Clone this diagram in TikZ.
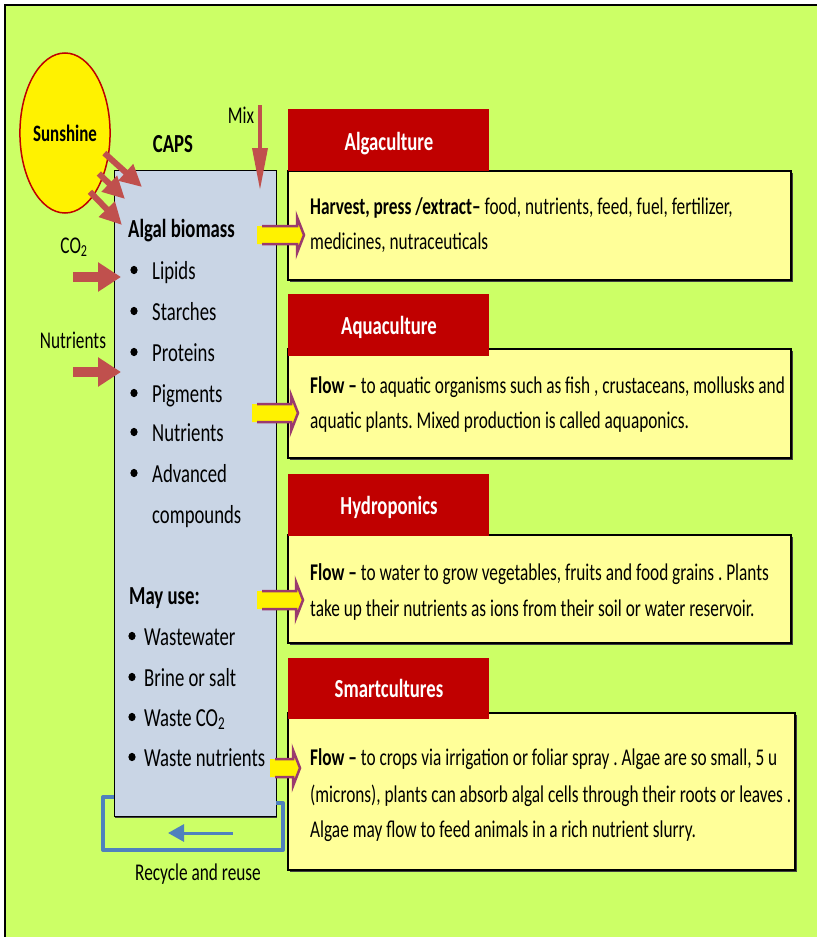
\documentclass[tikz,border=0pt]{standalone}
\usepackage{fontspec}
\setmainfont[FakeStretch=0.72]{Carlito}
\usetikzlibrary{arrows.meta,shapes.geometric,shadows}
\definecolor{bg}{HTML}{CCFF66}
\definecolor{capsfill}{HTML}{C9D5E5}
\definecolor{yfill}{HTML}{FFFF99}
\definecolor{hred}{HTML}{C00000}
\definecolor{ared}{HTML}{C0504D}
\definecolor{rblue}{HTML}{4F81BD}
\definecolor{purp}{HTML}{9B3A6E}
\frenchspacing
\newcommand\yellowarrow[3]{%
  \fill[yellow] (#1,#2-9) -- (#3-7,#2-9) -- (#3-7,#2-18) -- (#3,#2) -- (#3-7,#2+18) -- (#3-7,#2+9) -- (#1,#2+9) -- cycle;
  \draw[purp, line width=2.5, line join=miter] (#1+5,#2-9) -- (#3-7,#2-9) -- (#3-7,#2-18) -- (#3,#2) -- (#3-7,#2+18) -- (#3-7,#2+9) -- (#1+5,#2+9);
}
\begin{document}
\begin{tikzpicture}[x=1pt,y=-1pt,
  lst/.style={font=\fontsize{26}{30}\selectfont, anchor=base west, inner sep=0},
  lstb/.style={font=\fontsize{26}{30}\selectfont\bfseries, anchor=base west, inner sep=0},
  body/.style={font=\fontsize{24}{28}\selectfont, anchor=base west, inner sep=0},
  lbl/.style={font=\fontsize{24}{28}\selectfont, anchor=base, inner sep=0},
  hdrtxt/.style={font=\fontsize{26}{30}\selectfont\bfseries, text=white, anchor=base, inner sep=0},
  hdrbox/.style={fill=hred, anchor=north west, minimum width=201, minimum height=62, inner sep=0, outer sep=0},
  ybox/.style={fill=yfill, draw=black, line width=1.2, anchor=north west, inner sep=0, outer sep=0,
     drop shadow={shadow xshift=1.5pt, shadow yshift=-1.5pt, fill=black!75, opacity=1}},
  capsbox/.style={fill=capsfill, draw=black, line width=1, anchor=north west, inner sep=0, outer sep=0,
     drop shadow={shadow xshift=1pt, shadow yshift=-1.5pt, fill=black!75, opacity=1}},
  sunarrow/.style={ared, line width=6, -{Triangle[length=22pt,width=21pt]}},
  inarrow/.style={ared, line width=10, -{Triangle[length=23pt,width=28pt]}},
  mixarrow/.style={ared, line width=3.5, -{Triangle[length=42pt,width=15pt]}},
  recyc/.style={rblue, line width=4, line join=round},
  bul/.style={fill=black}
]
\useasboundingbox (0,0) rectangle (817,937);
\fill[white] (0,0) rectangle (817,937);
\fill[bg] (5,5) rectangle (817,937);
\draw[black, line width=2] (5,937) -- (5,5) -- (817,5);

% CAPS box
\node[capsbox, minimum width=162, minimum height=646] (caps) at (114,170) {};

% Sunshine
\node[ellipse, draw=hred, line width=1.5, fill=yellow, minimum width=90, minimum height=160, inner sep=0, outer sep=0,
      font=\fontsize{23.5}{28}\selectfont\bfseries] (sun) at (65,133) {Sunshine};
\coordinate (a1) at (142,187);
\coordinate (a2) at (125,199);
\coordinate (a3) at (122,225);
\draw[sunarrow] ([shift={(-4,-2)}]sun.-27) -- (a1);
\draw[sunarrow] ([shift={(-4,-3)}]sun.-49) -- (a2);
\draw[sunarrow] ([shift={(-3,-4)}]sun.-66) -- (a3);

\node[lbl, font=\fontsize{26}{30}\selectfont\bfseries] (capslbl) at (173,152) {CAPS};

% Mix
\node[lbl] (mix) at (241,123) {Mix};
\coordinate (m0) at (260,105);
\coordinate (m1) at (260,190);
\draw[mixarrow] (m0) -- (m1);

% CO2 and nutrients
\node[lbl] (co2) at (74,253) {CO\textsubscript{2}};
\coordinate (c0) at (73,277);
\coordinate (c1) at (121,277);
\draw[inarrow] (c0) -- (c1);
\node[lbl] (nutr) at (73,348) {Nutrients};
\coordinate (n0) at (73,372);
\coordinate (n1) at (121,372);
\draw[inarrow] (n0) -- (n1);

% list 1
\node[lstb] (alg) at (128,237) {Algal biomass};
\foreach \y/\t [count=\i] in {279/Lipids,320/Starches,361/Proteins,402/Pigments,441/Nutrients,482/Advanced} {
  \fill[bul] (134,\y-9) ellipse (3.6 and 4.2);
  \node[lst] (l\i) at (152,\y) {\t};
}
\node[lst] (l7) at (152,523) {compounds};

% list 2
\node[lstb] (may) at (129,604) {May use:};
\foreach \y/\t [count=\i] in {645/Wastewater,686/Brine or salt,726/Waste CO\textsubscript{2},766/Waste nutrients} {
  \fill[bul] (132,\y-9) ellipse (3.6 and 4.2);
  \node[lst] (w\i) at (144,\y) {\t};
}

% recycle
\coordinate (rl) at (114,797);
\coordinate (rr) at (276,803);
\draw[recyc] (rl) -- (103,797) -- (103,850) -- (283,850) -- (283,803) -- (rr);
\coordinate (ra0) at (233,833);
\coordinate (ra1) at (168,833);
\draw[rblue, line width=3, -{Triangle[length=16pt,width=17pt]}] (ra0) -- (ra1);
\node[lbl] (rec) at (198,880) {Recycle and reuse};

% yellow boxes
\node[ybox, minimum width=503, minimum height=109] (y1) at (288,171) {};
\node[ybox, minimum width=503, minimum height=109] (y2) at (288,349) {};
\node[ybox, minimum width=503, minimum height=108] (y3) at (288,535) {};
\node[ybox, minimum width=507, minimum height=157] (y4) at (288,713) {};

% headers
\node[hdrbox] (h1) at (288,109) {};
\node[hdrbox] (h2) at (288,294) {};
\node[hdrbox] (h3) at (288,474) {};
\node[hdrbox, minimum height=61] (h4) at (288,658) {};
\node[hdrtxt] (ht1) at (389,150) {Algaculture};
\node[hdrtxt] (ht2) at (389,334) {Aquaculture};
\node[hdrtxt] (ht3) at (389,514) {Hydroponics};
\node[hdrtxt] (ht4) at (389,697) {Smartcultures};

% body texts
\node[body] (t1a) at (310,214) {\textbf{Harvest, press /extract–} food, nutrients, feed, fuel, fertilizer,};
\node[body] (t1b) at (310,249) {medicines, nutraceuticals};
\node[body] (t2a) at (310,393) {\textbf{Flow –} to aquatic organisms such as fish , crustaceans, mollusks and};
\node[body] (t2b) at (310,428) {aquatic plants. Mixed production is called aquaponics.};
\node[body] (t3a) at (310,580) {\textbf{Flow –} to water to grow vegetables, fruits and food grains . Plants};
\node[body] (t3b) at (310,616) {take up their nutrients as ions from their soil or water reservoir.};
\node[body] (t4a) at (310,765) {\textbf{Flow –} to crops via irrigation or foliar spray . Algae are so small, 5 u};
\node[body] (t4b) at (310,802) {(microns), plants can absorb algal cells through their roots or leaves .};
\node[body] (t4c) at (310,837) {Algae may flow to feed animals in a rich nutrient slurry.};

% yellow block arrows
\yellowarrow{257}{235}{304}
\yellowarrow{252}{413}{298}
\yellowarrow{257}{600}{303}
\yellowarrow{270}{768}{300}
\end{tikzpicture}
\end{document}
